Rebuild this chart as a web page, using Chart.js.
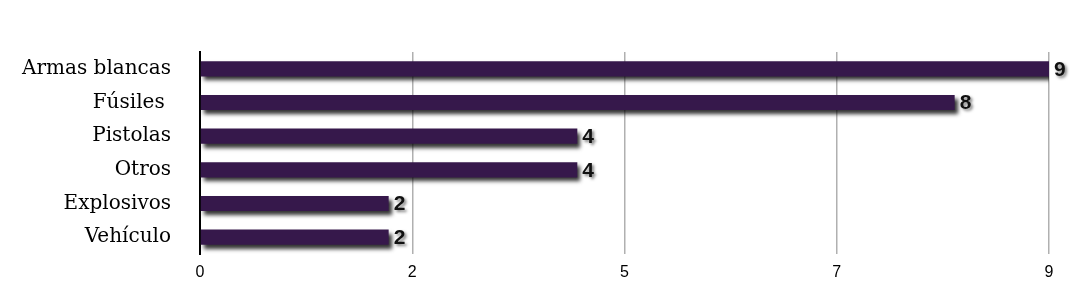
<!DOCTYPE html>
<html>
<head>
<meta charset="utf-8">
<script src="https://cdn.jsdelivr.net/npm/chart.js@4"></script>
<style>
  html, body { margin: 0; padding: 0; background: #fff; }
  #wrap { width: 1092px; height: 306px; }
</style>
</head>
<body>
<div id="wrap"><canvas id="c" width="1092" height="306"></canvas></div>
<script>
const categories = ['Armas blancas', 'Fúsiles ', 'Pistolas', 'Otros', 'Explosivos', 'Vehículo'];
const values = [9, 8, 4, 4, 2, 2];
const axisMax = 9;
const axisStep = 2.25;

// bar shadow, like the old Keynote-style export
const barShadow = {
    id: 'barShadow',
    beforeDatasetsDraw(chart) {
        const ctx = chart.ctx;
        ctx.save();
        ctx.shadowColor = 'rgba(0, 0, 0, 0.8)';
        ctx.shadowOffsetX = 3;
        ctx.shadowOffsetY = 4;
        ctx.shadowBlur = 4;
    },
    afterDatasetsDraw(chart) {
        chart.ctx.restore();
    }
};

const valueLabels = {
    id: 'valueLabels',
    afterDatasetsDraw(chart) {
        const ctx = chart.ctx;
        const meta = chart.getDatasetMeta(0);
        ctx.save();
        ctx.font = 'bold 21px "Liberation Sans", Arial, sans-serif';
        ctx.fillStyle = '#111';
        ctx.textAlign = 'left';
        ctx.textBaseline = 'middle';
        ctx.shadowColor = 'rgba(0, 0, 0, 0.5)';
        ctx.shadowOffsetX = 2;
        ctx.shadowOffsetY = 2;
        ctx.shadowBlur = 3;
        meta.data.forEach((bar, i) => {
            ctx.fillText(String(values[i]), bar.x + 5, bar.y + 1);
        });
        ctx.restore();
    }
};

new Chart(document.getElementById('c'), {
    type: 'bar',
    data: {
        labels: categories,
        datasets: [{
            data: values,
            backgroundColor: '#36184b',
            borderWidth: 0,
            barPercentage: 0.9,
            categoryPercentage: 0.5
        }]
    },
    options: {
        indexAxis: 'y',
        responsive: false,
        animation: false,
        layout: { padding: { left: 0, right: 43, top: 52, bottom: 0 } },
        plugins: { legend: { display: false }, tooltip: { enabled: false } },
        scales: {
            x: {
                min: 0,
                max: axisMax,
                afterFit: s => { s.height = 52; },
                afterBuildTicks: s => {
                    const t = [];
                    for (let v = 0; v <= axisMax + 1e-9; v += axisStep) t.push({ value: v });
                    s.ticks = t;
                },
                grid: {
                    color: ctx => ctx.tick && ctx.tick.value === 0 ? 'rgba(0,0,0,0)' : '#b0b0b0',
                    lineWidth: 1.5,
                    drawTicks: false
                },
                border: { display: false },
                ticks: {
                    color: '#000',
                    font: { size: 16, family: '"Liberation Sans", Arial, sans-serif' },
                    padding: 9,
                    maxRotation: 0,
                    callback: v => Math.round(v)
                }
            },
            y: {
                afterFit: s => { s.width = 200; },
                grid: { display: false, drawTicks: false },
                border: { display: true, color: '#000', width: 2 },
                ticks: {
                    color: '#000',
                    font: { size: 20, family: '"DejaVu Serif", serif', lineHeight: 1.0 },
                    padding: 29
                }
            }
        }
    },
    plugins: [barShadow, valueLabels]
});
</script>
</body>
</html>
